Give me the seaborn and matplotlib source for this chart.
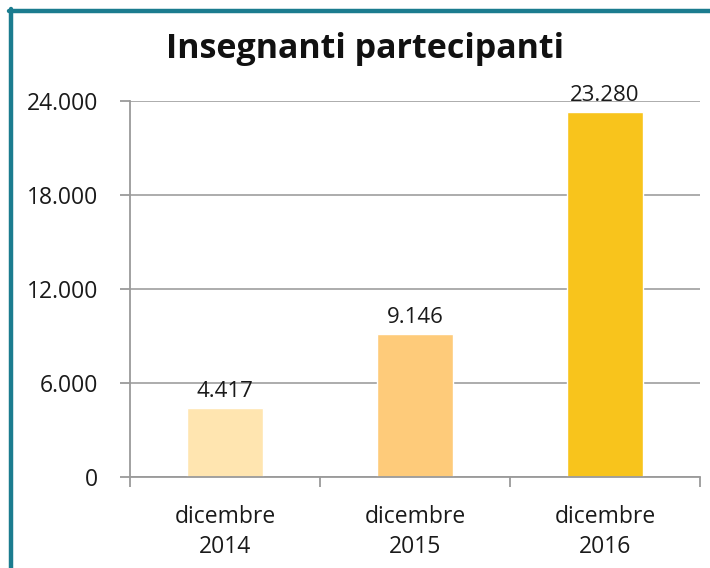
import numpy as np
import pandas as pd
import matplotlib
matplotlib.use('Agg')
import matplotlib.pyplot as plt
import seaborn as sns
from matplotlib.lines import Line2D
from matplotlib.ticker import FuncFormatter

# data
periodi = ['dicembre\n2014', 'dicembre\n2015', 'dicembre\n2016']
insegnanti = [4417, 9146, 23280]
colori = ['#FFE5B0', '#FECB7A', '#F8C41C']

def punto(v, pos=None):
    return f'{int(v):,}'.replace(',', '.')

sns.set_style('white')
plt.rcParams['font.family'] = ['Open Sans', 'DejaVu Sans']

df = pd.DataFrame({'periodo': periodi, 'valore': insegnanti})

fig = plt.figure(figsize=(7.1, 5.68), dpi=100)
ax = fig.add_axes([0.183, 0.160, 0.803, 0.662])

sns.barplot(data=df, x='periodo', y='valore', hue='periodo', palette=colori,
            width=0.4, legend=False, ax=ax, saturation=1)

ax.set_ylim(0, 24000)
ax.set_xlim(-0.5, 2.5)
ax.set_yticks([0, 6000, 12000, 18000, 24000])
ax.yaxis.set_major_formatter(FuncFormatter(punto))
ax.yaxis.grid(True, color='#A6A6A6', linewidth=1.3)
ax.set_axisbelow(True)
ax.set_xlabel('')
ax.set_ylabel('')

for s in ['top', 'right']:
    ax.spines[s].set_visible(False)
for s in ['left', 'bottom']:
    ax.spines[s].set_color('#9A9A9A')
    ax.spines[s].set_linewidth(1.3)

ax.tick_params(axis='y', length=7, width=1.3, color='#9A9A9A', labelsize=16.5,
               labelcolor='#1a1a1a', pad=16, left=True)
ax.tick_params(axis='x', which='major', length=0, labelsize=16.5,
               labelcolor='#1a1a1a', pad=20)
for lab in ax.get_xticklabels():
    lab.set_linespacing(1.35)
ax.set_xticks([-0.5, 0.5, 1.5, 2.5], minor=True)
ax.tick_params(axis='x', which='minor', length=7, width=1.3, color='#9A9A9A',
               bottom=True)

for i, v in enumerate(insegnanti):
    ax.text(i, v + 400, punto(v), ha='center', va='bottom', fontsize=16,
            color='#1a1a1a')

fig.text(0.514, 0.913, 'Insegnanti partecipanti', ha='center', va='center',
         fontsize=24.5, fontweight='bold', color='#111111')

# teal frame on top and left
fig.add_artist(Line2D([9/710, 1], [1 - 11/568, 1 - 11/568], color='#1B7C8F',
                      linewidth=3.2, transform=fig.transFigure))
fig.add_artist(Line2D([11/710, 11/710], [0, 1 - 9/568], color='#1B7C8F',
                      linewidth=3.2, transform=fig.transFigure))

fig.savefig('out.png', dpi=100)
